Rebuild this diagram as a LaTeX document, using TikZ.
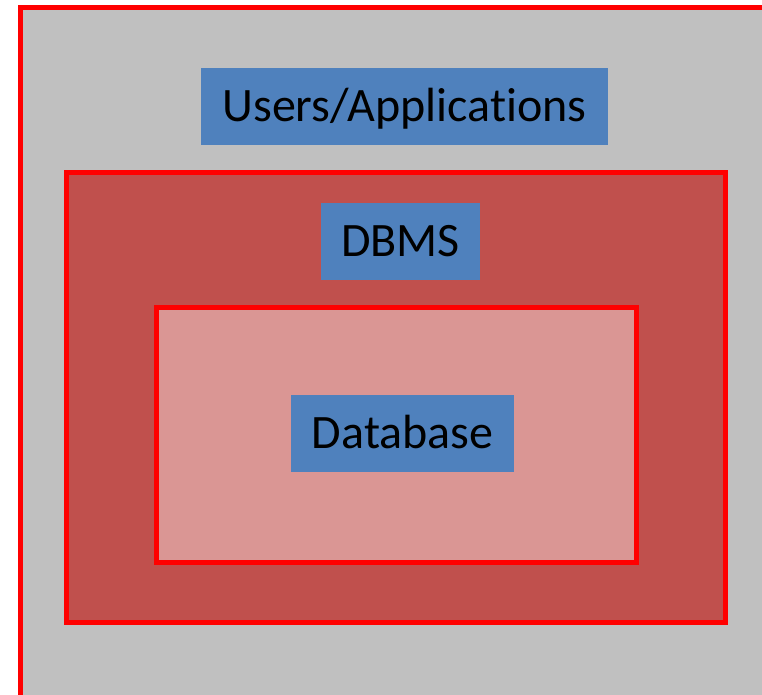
\documentclass[tikz,border=0pt]{standalone}
\usepackage{fontspec}
\setmainfont{Carlito}[Ligatures=NoCommon]
\usetikzlibrary{positioning}

\definecolor{usergray}{HTML}{C0C0C0}
\definecolor{dbmsred}{HTML}{C0504D}
\definecolor{dbpink}{HTML}{DA9694}
\definecolor{tagblue}{HTML}{4F81BD}

\tikzset{
  layer/.style={draw=red, line width=5pt, inner sep=0pt, outer sep=0pt, anchor=north west},
  tagbox/.style={fill=tagblue, inner sep=0pt, minimum height=77pt,
    text height=30pt, text depth=0pt, font=\fontsize{48}{57}\selectfont}
}

\begin{document}
\begin{tikzpicture}[x=1pt,y=-1pt]
 \useasboundingbox (0,0) rectangle (762,695);
 \clip (0,0) rectangle (762,695);
 % nested layers
 \node[layer,fill=usergray,minimum width=780pt,minimum height=720pt] (userlayer) at (20.5,7.5) {};
 \node[layer,fill=dbmsred,minimum width=659.5pt,minimum height=450pt] (dbmslayer) at (66,172.5) {};
 \node[layer,fill=dbpink,minimum width=480pt,minimum height=254.5pt] (dblayer) at (156,307.5) {};
 % labels
 \node[tagbox,minimum width=407pt] (apps) at (404.5,106.3) {Users/Applications};
 \node[tagbox,minimum width=159pt] (dbms) at (400.5,241) {DBMS};
 \node[tagbox,minimum width=223pt] (db) at (402.7,433.8) {Database};
\end{tikzpicture}
\end{document}
